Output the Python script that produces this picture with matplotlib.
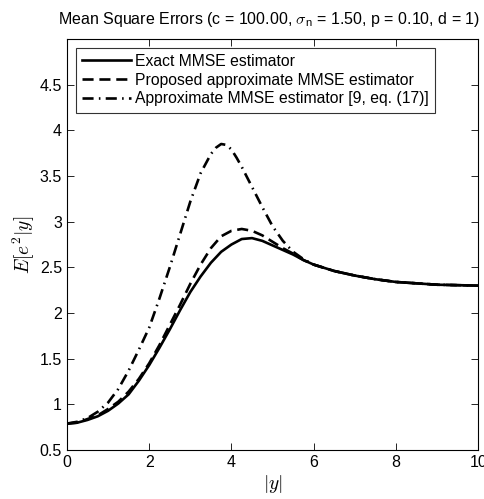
import matplotlib
matplotlib.use('Agg')
import matplotlib.pyplot as plt

# Values.
y_abs = [0, 0.25, 0.5, 0.75, 1, 1.25, 1.5, 1.75, 2, 2.25, 2.5, 2.75, 3,
         3.25, 3.5, 3.75, 4, 4.25, 4.5, 4.75, 5, 5.25, 5.5, 5.75, 6,
         6.5, 7, 7.5, 8, 9, 10]
exact_mse = [0.79, 0.80, 0.83, 0.87, 0.93, 1.01, 1.11, 1.26, 1.43, 1.62,
             1.82, 2.03, 2.23, 2.40, 2.55, 2.67, 2.75, 2.81, 2.82, 2.79,
             2.74, 2.69, 2.64, 2.58, 2.53,
             2.46, 2.41, 2.37, 2.34, 2.31, 2.30]
proposed_mse = [0.79, 0.80, 0.84, 0.88, 0.95, 1.03, 1.14, 1.28, 1.45, 1.65,
                1.87, 2.09, 2.32, 2.53, 2.71, 2.84, 2.90, 2.92, 2.90, 2.85,
                2.78, 2.71, 2.65, 2.58, 2.53,
                2.46, 2.41, 2.37, 2.34, 2.31, 2.30]

# the [9] curve has a sharp peak, so it gets a few extra points there
y_abs_ref9 = [0, 0.25, 0.5, 0.75, 1, 1.25, 1.5, 1.75, 2, 2.25, 2.5, 2.75,
              3, 3.25, 3.5, 3.625, 3.75, 3.875, 4, 4.125, 4.25, 4.5, 4.75,
              5, 5.25, 5.5, 5.75, 6, 6.5, 7, 7.5, 8, 9, 10]
approx_mse = [0.79, 0.81, 0.85, 0.92, 1.02, 1.17, 1.37, 1.60, 1.84, 2.16,
              2.50, 2.86, 3.22, 3.53, 3.74, 3.81, 3.85, 3.84, 3.79, 3.70,
              3.60, 3.38, 3.16, 2.95, 2.79, 2.67, 2.59, 2.53,
              2.46, 2.41, 2.37, 2.34, 2.31, 2.30]

labels = ['Exact MMSE estimator',
          'Proposed approximate MMSE estimator',
          'Approximate MMSE estimator [9, eq. (17)]']
y_ticks = [0.5, 1, 1.5, 2, 2.5, 3, 3.5, 4, 4.5]
y_tick_labels = ['0.5', '1', '1.5', '2', '2.5', '3', '3.5', '4', '4.5']
x_ticks = [0, 2, 4, 6, 8, 10]

plt.rcParams['font.family'] = ['Liberation Sans', 'DejaVu Sans']
plt.rcParams['mathtext.fontset'] = 'cm'

fig = plt.figure(figsize=(4.85, 4.99), dpi=100)
ax = fig.add_axes([0.138, 0.098, 0.848, 0.824])

lw = 1.9
ax.plot(y_abs, exact_mse, '-', color='black', lw=lw, label=labels[0])
ax.plot(y_abs, proposed_mse, color='black', lw=lw, label=labels[1],
        dashes=(4.2, 2.2))
ax.plot(y_abs_ref9, approx_mse, color='black', lw=lw, label=labels[2],
        dashes=(4.2, 2.0, 0.6, 2.0))

ax.set_xlim(0, 10)
ax.set_ylim(0.5, 5.0)
ax.set_xticks(x_ticks)
ax.set_yticks(y_ticks)
ax.set_yticklabels(y_tick_labels)
ax.tick_params(direction='in', top=True, right=True, labelsize=11.5,
               length=5, width=0.6)
for s in ax.spines.values():
    s.set_linewidth(0.8)

ax.set_title(r'Mean Square Errors (c = 100.00, $\sigma_\mathregular{n}$ = 1.50, p = 0.10, d = 1)',
             fontsize=11.5, pad=11, x=0.491)
ax.set_xlabel(r'$|y|$', fontsize=14, labelpad=2)
ax.set_ylabel(r'$E[e^2|y]$', fontsize=14, labelpad=2)

leg = ax.legend(loc='upper left', fontsize=11.3, frameon=True, fancybox=False,
                edgecolor='black', handlelength=3.15, handletextpad=0.25,
                borderpad=0.4, labelspacing=0.24, borderaxespad=0.55)
leg.get_frame().set_linewidth(0.8)

fig.savefig('out.png', dpi=100)
